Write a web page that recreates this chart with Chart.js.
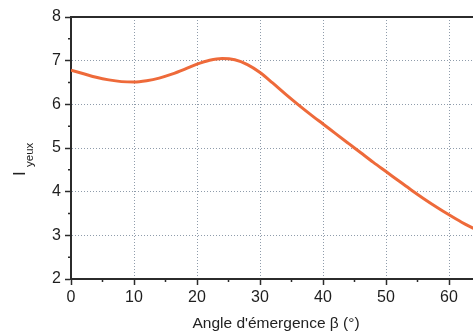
<!DOCTYPE html>
<html lang="fr">

<head>
    <meta charset="UTF-8">
    <title>Iyeux vs angle d'émergence</title>
    <script src="https://cdn.jsdelivr.net/npm/chart.js"></script>
    <style>
        html, body {
            margin: 0;
            padding: 0;
            background: #fff;
            overflow: hidden;
        }

        #chart {
            position: absolute;
            left: 0;
            top: 0;
        }
    </style>
</head>

<body>
    <canvas id="chart" width="530" height="334"></canvas>

    <script>
        // values
        const angles = [0, 2, 4, 6, 8, 10, 12, 14, 16, 18, 20, 22, 24, 26, 28, 30, 32, 34, 36, 38, 40,
            42, 44, 46, 48, 50, 52, 54, 56, 58, 60, 62, 64, 66];
        const iyeux = [6.78, 6.70, 6.62, 6.56, 6.52, 6.51, 6.54, 6.60, 6.69, 6.80, 6.92, 7.01, 7.05, 7.02, 6.91,
            6.73, 6.49, 6.24, 6.00, 5.77, 5.55, 5.33, 5.11, 4.89, 4.67, 4.46, 4.25, 4.04, 3.84, 3.65,
            3.47, 3.30, 3.15, 3.00];
        const xTicks = [0, 10, 20, 30, 40, 50, 60, 70];
        const yTicks = [2, 3, 4, 5, 6, 7, 8];
        const xMinor = [5, 15, 25, 35, 45, 55, 65];
        const yMinor = [2.5, 3.5, 4.5, 5.5, 6.5, 7.5];

        const axisColor = '#2b2b2b';
        const gridColor = '#8f9cab';
        const lineColor = '#ee6a3a';
        const font = 'Liberation Sans, Arial, sans-serif';

        // frame on top + minor ticks + axis titles
        const extras = {
            id: 'extras',
            afterDraw(chart) {
                const c = chart.ctx;
                const a = chart.chartArea;
                const xs = chart.scales.x;
                const ys = chart.scales.y;
                c.save();
                c.strokeStyle = axisColor;
                c.lineWidth = 2;
                c.beginPath();
                c.moveTo(a.left, a.top);
                c.lineTo(a.right, a.top);
                c.lineTo(a.right, a.bottom);
                c.stroke();

                c.lineWidth = 1.5;
                c.beginPath();
                yMinor.forEach(v => {
                    const py = ys.getPixelForValue(v);
                    c.moveTo(a.left - 3, py);
                    c.lineTo(a.left, py);
                });
                xMinor.forEach(v => {
                    const px = xs.getPixelForValue(v);
                    c.moveTo(px, a.bottom);
                    c.lineTo(px, a.bottom + 3);
                });
                c.stroke();

                c.fillStyle = '#222';
                c.font = '15.5px ' + font;
                c.textAlign = 'center';
                c.textBaseline = 'alphabetic';
                c.fillText("Angle d'émergence β (°)", 276, 328);

                c.translate(25, 176);
                c.rotate(-Math.PI / 2);
                c.textAlign = 'left';
                c.font = '17px ' + font;
                c.fillText('I', 0, 0);
                c.font = '11.5px ' + font;
                c.fillText('yeux', 9, 8);
                c.restore();
            }
        };

        new Chart(document.getElementById('chart'), {
            type: 'line',
            data: {
                datasets: [{
                    data: angles.map((a, i) => ({ x: a, y: iyeux[i] })),
                    borderColor: lineColor,
                    borderWidth: 3,
                    pointRadius: 0,
                    cubicInterpolationMode: 'monotone',
                    fill: false
                }]
            },
            options: {
                responsive: false,
                animation: false,
                layout: {
                    padding: { top: 17, right: 18, bottom: 0, left: 0 }
                },
                plugins: {
                    legend: { display: false },
                    tooltip: { enabled: false }
                },
                scales: {
                    x: {
                        type: 'linear',
                        min: 0,
                        max: 70,
                        afterFit: s => { s.height = 55; },
                        afterBuildTicks: s => { s.ticks = xTicks.map(v => ({ value: v })); },
                        ticks: {
                            color: '#1e1e1e',
                            padding: 3,
                            maxRotation: 0,
                            font: { family: font, size: 16 }
                        },
                        grid: {
                            color: gridColor,
                            lineWidth: 1,
                            tickColor: axisColor,
                            tickLength: 6,
                            tickWidth: 1.5
                        },
                        border: { color: axisColor, width: 2, dash: [1, 2] }
                    },
                    y: {
                        min: 2,
                        max: 8,
                        afterFit: s => { s.width = 71; },
                        afterBuildTicks: s => { s.ticks = yTicks.map(v => ({ value: v })); },
                        ticks: {
                            color: '#1e1e1e',
                            padding: 4,
                            font: { family: font, size: 16 }
                        },
                        grid: {
                            color: gridColor,
                            lineWidth: 1,
                            tickColor: axisColor,
                            tickLength: 6,
                            tickWidth: 1.5
                        },
                        border: { color: axisColor, width: 2, dash: [1, 2] }
                    }
                }
            },
            plugins: [extras]
        });
    </script>
</body>

</html>
